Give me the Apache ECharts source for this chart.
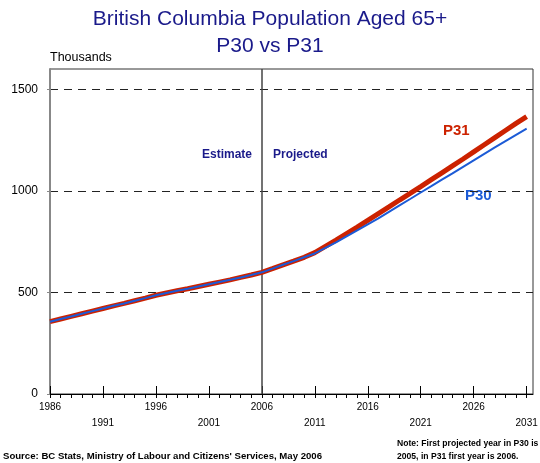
<!DOCTYPE html>
<html>
<head>
<meta charset="utf-8">
<script src="https://cdn.jsdelivr.net/npm/echarts@6/dist/echarts.min.js"></script>
<style>html,body{margin:0;padding:0;background:#fff;}#chart{width:540px;height:463px;}</style>
</head>
<body>
<div id="chart"></div>
<script>
var years = [1986,1987,1988,1989,1990,1991,1992,1993,1994,1995,
             1996,1997,1998,1999,2000,2001,2002,2003,2004,2005,
             2006,2007,2008,2009,2010,2011,2012,2013,2014,2015,
             2016,2017,2018,2019,2020,2021,2022,2023,2024,2025,
             2026,2027,2028,2029,2030,2031];
var p31 = [356,369,382,395,408,421,434,446,459,472,
           486,497,508,518,529,540,551,562,574,586,
           599,617,636,654,673,696,727,758,790,822,
           855,888,921,955,988,1021,1055,1089,1123,1157,
           1192,1227,1262,1297,1332,1366];
var p30 = [356,369,382,395,408,421,434,446,459,472,
           486,497,508,518,529,540,551,562,574,586,
           599,617,636,654,673,692,719,747,776,805,
           835,865,897,929,960,992,1023,1055,1086,1118,
           1150,1182,1214,1245,1276,1307];
var yTicks = [0, 500, 1000, 1500];
var labelRow1 = [1986, 1996, 2006, 2016, 2026];
var labelRow2 = [1991, 2001, 2011, 2021, 2031];
var divideYear = 2006;

var FONT = '"Liberation Sans", Arial, sans-serif';
var NAVY = '#1a1a8a';
var RED = '#cc2200';
var BLUE = '#1c5bd6';

function pairs(vals) { return years.map(function (y, i) { return [y, vals[i]]; }); }

var xMin = 1986, xMax = 2031.6;

var chart = echarts.init(document.getElementById('chart'), null, {renderer: 'canvas'});
chart.setOption({
  animation: false,
  backgroundColor: '#ffffff',
  textStyle: {fontFamily: FONT},
  title: {
    text: 'British Columbia Population Aged 65+\nP30 vs P31',
    left: 'center', top: 1,
    textStyle: {fontFamily: FONT, fontSize: 21, fontWeight: 'normal', color: NAVY, lineHeight: 27}
  },
  grid: {left: 50, right: 7, top: 69, bottom: 69, show: true, borderColor: '#333', borderWidth: 1,
         backgroundColor: 'transparent', containLabel: false, outerBoundsMode: 'none'},
  xAxis: [{
    type: 'value', min: xMin, max: xMax, interval: 1, position: 'bottom',
    axisLine: {onZero: false, lineStyle: {color: '#000', width: 1}},
    axisTick: {length: 4, lineStyle: {color: '#000'}},
    axisLabel: {margin: 8, fontSize: 10, color: '#000', fontFamily: FONT, showMaxLabel: false, showMinLabel: true,
      formatter: function (v) { return labelRow1.indexOf(v) >= 0 ? String(v) : ''; }},
    splitLine: {show: false}
  }, {
    type: 'value', min: xMin, max: xMax, interval: 5, position: 'bottom',
    axisLine: {show: false, onZero: false},
    axisTick: {inside: true, length: 8, lineStyle: {color: '#000'}},
    axisLabel: {margin: 24, fontSize: 10, color: '#000', fontFamily: FONT, showMaxLabel: false,
      formatter: function (v) { return labelRow2.indexOf(v) >= 0 ? String(v) : ''; }},
    splitLine: {show: false}
  }],
  yAxis: {
    type: 'value', min: 0, max: 1600, interval: 500,
    axisLine: {show: true, onZero: false, lineStyle: {color: '#888', width: 2}},
    axisTick: {show: true, length: 3, lineStyle: {color: '#888'}},
    axisLabel: {fontSize: 12, color: '#000', margin: 12, fontFamily: FONT, showMaxLabel: false,
      formatter: function (v) { return yTicks.indexOf(v) >= 0 ? String(v) : ''; }},
    splitLine: {show: true, showMaxLine: false, showMinLine: false, lineStyle: {color: '#222', type: [8, 6], width: 1}}
  },
  series: [{
    name: 'P31', type: 'line', data: pairs(p31), xAxisIndex: 0, showSymbol: false, symbol: 'none',
    lineStyle: {color: RED, width: 5}, z: 3,
    markLine: {
      silent: true, symbol: 'none', label: {show: false},
      lineStyle: {color: '#444', width: 1.5, type: 'solid'},
      data: [{xAxis: divideYear}], z: 1
    }
  }, {
    name: 'P30', type: 'line', data: pairs(p30), xAxisIndex: 0, showSymbol: false, symbol: 'none',
    lineStyle: {color: BLUE, width: 2}, z: 4
  }],
  graphic: [
    {type: 'text', style: {text: 'Thousands', x: 50, y: 58, font: '12.5px ' + FONT, fill: '#000', textVerticalAlign: 'middle'}},
    {type: 'text', style: {text: 'Estimate', x: 252, y: 155, font: 'bold 12px ' + FONT, fill: NAVY, textAlign: 'right', textVerticalAlign: 'middle'}},
    {type: 'text', style: {text: 'Projected', x: 273, y: 155, font: 'bold 12px ' + FONT, fill: NAVY, textVerticalAlign: 'middle'}},
    {type: 'text', style: {text: 'P31', x: 443, y: 131, font: 'bold 15px ' + FONT, fill: RED, textVerticalAlign: 'middle'}},
    {type: 'text', style: {text: 'P30', x: 465, y: 196, font: 'bold 15px ' + FONT, fill: BLUE, textVerticalAlign: 'middle'}},
    {type: 'text', style: {text: "Source: BC Stats, Ministry of Labour and Citizens' Services, May 2006", x: 3, y: 456, font: 'bold 9.6px ' + FONT, fill: '#000', textVerticalAlign: 'middle'}},
    {type: 'text', style: {text: 'Note: First projected year in P30 is\n2005, in P31 first year is 2006.', x: 397, y: 437, font: 'bold 8.6px ' + FONT, lineHeight: 13, fill: '#000', textVerticalAlign: 'top'}}
  ]
});
</script>
</body>
</html>
